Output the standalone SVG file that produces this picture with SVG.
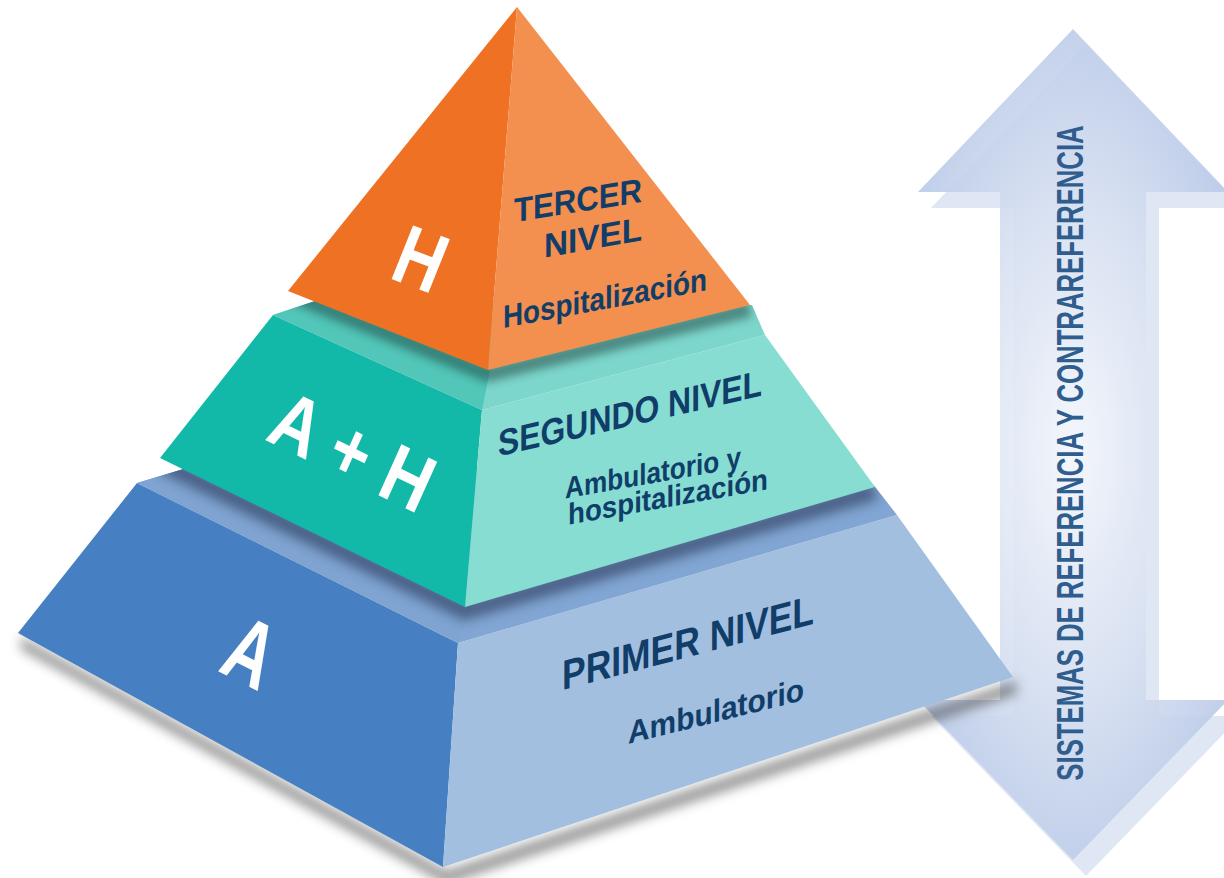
<svg xmlns="http://www.w3.org/2000/svg" width="1224" height="878" viewBox="0 0 1224 878">
<style>
.dk{fill:#113d69;font-family:"Liberation Sans",Arial,sans-serif;font-weight:bold}
.wt{fill:#ffffff;font-family:"Liberation Sans",Arial,sans-serif;font-weight:bold}
.ar{fill:#2f5d8e;font-family:"Liberation Sans",Arial,sans-serif;font-weight:bold}
</style>
<defs>
<radialGradient id="arrowGrad" gradientUnits="userSpaceOnUse" cx="1073" cy="450" r="430" gradientTransform="translate(1073 450) scale(0.42 1) translate(-1073 -450)">
<stop offset="0" stop-color="#f6f8fc"/>
<stop offset="0.55" stop-color="#d9e2f2"/>
<stop offset="1" stop-color="#bccbe8"/>
</radialGradient>
<filter id="blur6" x="-20%" y="-20%" width="140%" height="140%"><feGaussianBlur stdDeviation="6"/></filter>
<filter id="blur4" x="-20%" y="-20%" width="140%" height="140%"><feGaussianBlur stdDeviation="4"/></filter>
<clipPath id="blueLedgeClip"><polygon points="137,483 200,464 860,470 876,488 897,515 458,643"/></clipPath>
<clipPath id="tealLedgeClip"><polygon points="273,315 315,301 500,300 752,305 765,335 482,410"/></clipPath>
</defs>
<rect width="1224" height="878" fill="#ffffff"/>

<g id="arrow">
<path d="M1073,29 L1228,192 L1146,192 L1146,700 L1228,700 L1073,860 L918,700 L1000,700 L1000,192 L918,192 Z" transform="translate(13 16)" fill="#dfe6f4"/>
<path d="M1073,29 L1228,192 L1146,192 L1146,700 L1228,700 L1073,860 L918,700 L1000,700 L1000,192 L918,192 Z" fill="url(#arrowGrad)" opacity="0.9"/>
<text class="ar" x="0" y="0" font-size="37" text-anchor="middle" transform="translate(1083 453) rotate(-90) scale(0.695 1)">SISTEMAS DE REFERENCIA Y CONTRAREFERENCIA</text>
</g>

<g id="primer-nivel">
<polygon points="18,633 443,867 1013,677 1013,690 443,880 18,645" fill="#3a3a3a" opacity="0.55" filter="url(#blur6)" transform="translate(3 4)"/>
<polygon points="137,483 458,643 443,867 18,633" fill="#4680c3"/>
<polygon points="458,643 897,515 1013,677 443,867" fill="#a2bfe0"/>
<polygon points="137,483 200,464 860,470 876,488 897,515 458,643" fill="#82a6d3"/>
<polygon points="137,483 200,464 520,470 458,643" fill="#7fa4d1"/>
<g clip-path="url(#blueLedgeClip)">
<polyline points="160,462 465,611 875,491" fill="none" stroke="#1d2c4a" stroke-width="18" opacity="0.55" filter="url(#blur6)"/>
</g>
<text class="wt" x="0" y="0" font-size="84" text-anchor="middle" transform="matrix(0.7 0.35 -0.44 1 238 681)">A</text>
<text class="dk" x="0" y="0" font-size="42" text-anchor="middle" textLength="252" lengthAdjust="spacingAndGlyphs" transform="translate(688 657) skewY(-14.8)">PRIMER NIVEL</text>
<text class="dk" x="0" y="0" font-size="32" text-anchor="middle" textLength="176" lengthAdjust="spacingAndGlyphs" transform="translate(716 722) skewY(-14)">Ambulatorio</text>
</g>

<g id="segundo-nivel">
<polygon points="273,315 482,410 465,607 160,458" fill="#13b9a8"/>
<polygon points="482,410 765,335 875,487 465,607" fill="#87ddd2"/>
<polygon points="273,315 315,301 500,300 752,305 765,335 482,410" fill="#7dd6cb"/>
<polygon points="273,315 315,301 500,320 482,410" fill="#52c6b8"/>
<g clip-path="url(#tealLedgeClip)">
<polyline points="288,293 488,374 750,309" fill="none" stroke="#1b3f3c" stroke-width="16" opacity="0.5" filter="url(#blur4)"/>
</g>
<text class="wt" x="0" y="0" font-size="74" text-anchor="middle" transform="matrix(0.82 0.4 -0.45 1 341 477)">A + H</text>
<text class="dk" x="0" y="0" font-size="37" text-anchor="middle" textLength="264" lengthAdjust="spacingAndGlyphs" transform="translate(630 426) skewY(-13)">SEGUNDO NIVEL</text>
<text class="dk" x="0" y="0" font-size="30" text-anchor="middle" textLength="176" lengthAdjust="spacingAndGlyphs" transform="translate(653 483) skewY(-10)">Ambulatorio y</text>
<text class="dk" x="0" y="0" font-size="30" text-anchor="middle" textLength="200" lengthAdjust="spacingAndGlyphs" transform="translate(668 507) skewY(-10)">hospitalización</text>
</g>

<g id="tercer-nivel">
<polygon points="517,7 288,291 488,370" fill="#ef7123"/>
<polygon points="517,7 488,370 750,305" fill="#f38f4f"/>
<text class="wt" x="0" y="0" font-size="78" text-anchor="middle" transform="matrix(0.8 0.3 -0.4 1 410 286)">H</text>
<text class="dk" x="0" y="0" font-size="34" text-anchor="middle" textLength="128" lengthAdjust="spacingAndGlyphs" transform="translate(578 212) skewY(-9)">TERCER</text>
<text class="dk" x="0" y="0" font-size="34" text-anchor="middle" textLength="98" lengthAdjust="spacingAndGlyphs" transform="translate(593 249) skewY(-10)">NIVEL</text>
<text class="dk" x="0" y="0" font-size="32" text-anchor="middle" textLength="204" lengthAdjust="spacingAndGlyphs" transform="translate(605 309) skewY(-10.5)">Hospitalización</text>
</g>
</svg>
